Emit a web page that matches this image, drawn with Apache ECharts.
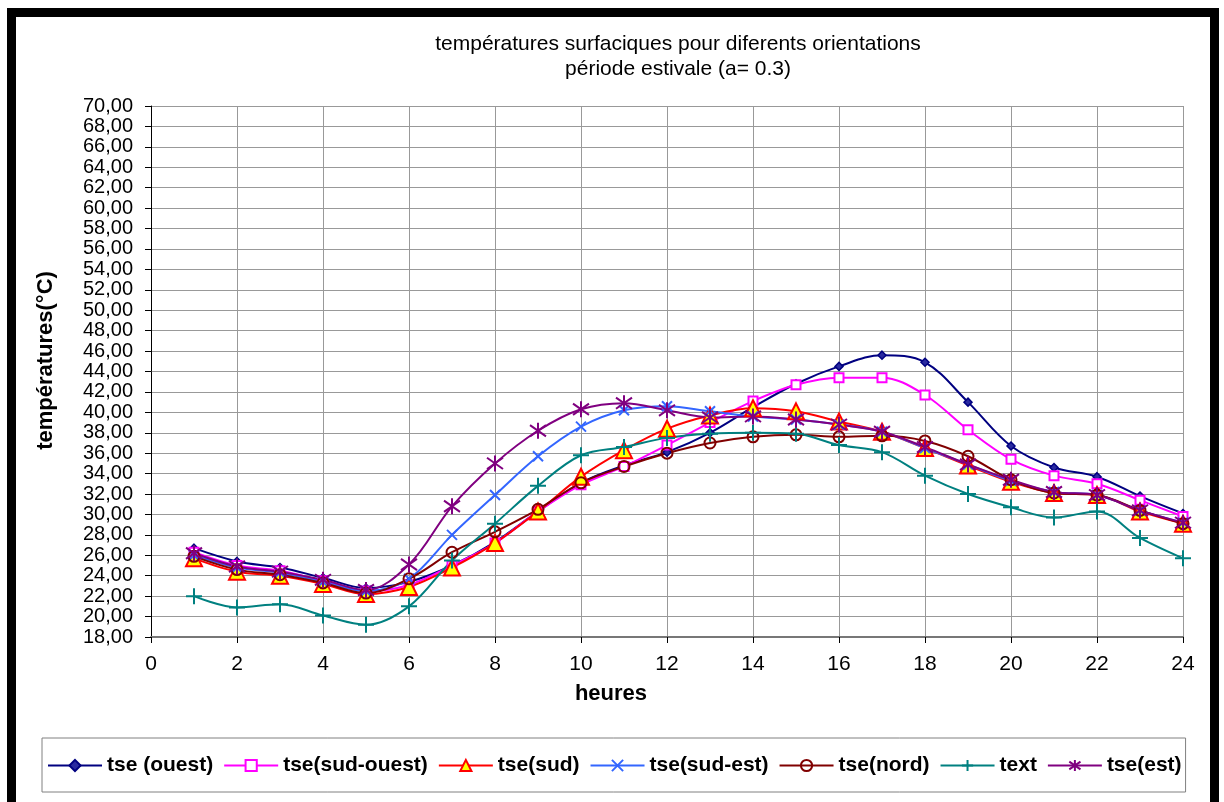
<!DOCTYPE html>
<html>
<head>
<meta charset="utf-8">
<script src="https://cdn.jsdelivr.net/npm/echarts@6/dist/echarts.min.js"></script>
<style>
html,body{margin:0;padding:0;background:#fff;}
#chart{width:1224px;height:802px;}
</style>
</head>
<body>
<div id="chart"></div>
<script>
const hours = [1,2,3,4,5,6,7,8,9,10,11,12,13,14,15,16,17,18,19,20,21,22,23,24];
const ouest    = [26.7,25.4,24.8,23.8,22.8,23.4,25.0,27.3,30.3,33.1,34.8,36.1,38.0,40.5,42.8,44.5,45.6,44.9,41.0,36.7,34.6,33.7,31.8,30.1];
const sudOuest = [26.3,25.0,24.5,23.5,22.5,23.1,25.0,27.2,30.3,32.9,34.7,36.8,39.0,41.1,42.7,43.4,43.4,41.7,38.3,35.4,33.8,33.0,31.4,29.8];
const sud      = [25.7,24.4,24.0,23.2,22.2,22.9,24.8,27.2,30.3,33.7,36.3,38.4,39.7,40.4,40.1,39.1,38.1,36.5,34.8,33.2,32.1,31.9,30.3,29.1];
const sudEst   = [26.0,24.8,24.3,23.4,22.5,23.7,28.0,31.9,35.7,38.6,40.2,40.6,40.1,39.6,39.3,38.8,38.1,36.5,34.9,33.3,32.2,31.9,30.4,29.2];
const nord     = [25.9,24.6,24.1,23.3,22.3,23.7,26.3,28.3,30.5,33.1,34.7,36.0,37.0,37.6,37.8,37.6,37.7,37.2,35.7,33.4,32.1,31.9,30.4,29.1];
const text     = [22.0,20.9,21.2,20.1,19.2,21.0,25.5,29.1,32.8,35.8,36.6,37.5,37.9,38.0,37.9,36.8,36.1,33.8,32.0,30.7,29.7,30.3,27.7,25.7];
const est      = [26.2,24.9,24.4,23.6,22.6,25.1,30.8,35.0,38.2,40.3,40.9,40.2,39.5,39.6,39.3,38.8,38.1,36.6,34.9,33.4,32.2,31.9,30.4,29.2];
const seriesNames = ['tse (ouest)','tse(sud-ouest)','tse(sud)','tse(sud-est)','tse(nord)','text','tse(est)'];
const titleLines = ['températures surfaciques pour diferents orientations','période estivale (a= 0.3)'];
const xName = 'heures';
const yName = 'températures(°C)';

const FONT = '"Liberation Sans", Arial, sans-serif';
function pairs(arr){ return hours.map((h,i)=>[h,arr[i]]); }
function mk(name, arr, color, symbol, size, fill, bw){
  return {
    name: name, type: 'line', data: pairs(arr), smooth: 0.35,
    color: color,
    symbol: symbol, symbolSize: size, showSymbol: true,
    lineStyle: {color: color, width: 2},
    itemStyle: {color: fill, borderColor: color, borderWidth: bw},
    emphasis: {disabled: true},
    animation: false
  };
}
const X_PATH = 'path://M0,0L10,10M10,0L0,10';
const PLUS_PATH = 'path://M5,0L5,10M0,5L10,5';
const STAR_PATH = 'path://M5,0L5,10M0,1.5L10,8.5M10,1.5L0,8.5';

const chart = echarts.init(document.getElementById('chart'), null, {renderer:'canvas'});
chart.setOption({
  animation: false,
  backgroundColor: '#fff',
  title: {
    text: titleLines.join('\n'),
    left: 673, top: 27, textAlign: 'center',
    textStyle: {fontFamily: FONT, fontSize: 21, fontWeight: 'normal', color: '#000', lineHeight: 25}
  },
  graphic: [{
    type: 'rect', silent: true,
    shape: {x: 11.5, y: 12.5, width: 1203, height: 900},
    style: {fill: 'none', stroke: '#000', lineWidth: 9}
  }],
  grid: {left: 151, right: 41, top: 106, bottom: 165, containLabel: false},
  xAxis: {
    type: 'value', min: 0, max: 24, interval: 2,
    name: xName, nameLocation: 'middle', nameGap: 46,
    nameTextStyle: {fontFamily: FONT, fontSize: 22, fontWeight: 'bold', color: '#000', padding: [0,112,0,0], verticalAlign: 'top'},
    axisLine: {show: true, onZero: false, lineStyle: {color: '#777', width: 2}},
    axisTick: {show: true, length: 6, lineStyle: {color: '#000'}},
    axisLabel: {fontFamily: FONT, fontSize: 21, color: '#000', margin: 17, showMinLabel: true, showMaxLabel: true, hideOverlap: false},
    splitLine: {show: true, lineStyle: {color: '#999', width: 1}}
  },
  yAxis: {
    type: 'value', min: 18, max: 70, interval: 2,
    name: yName, nameLocation: 'middle', nameGap: 94,
    nameTextStyle: {fontFamily: FONT, fontSize: 22, fontWeight: 'bold', color: '#000', padding: [0,0,0,22]},
    axisLine: {show: true, lineStyle: {color: '#000', width: 1}},
    axisTick: {show: true, length: 6, lineStyle: {color: '#000'}},
    axisLabel: {fontFamily: FONT, fontSize: 20, color: '#000', margin: 18,
      showMinLabel: true, showMaxLabel: true, hideOverlap: false,
      formatter: v => v.toFixed(2).replace('.', ',')},
    splitLine: {show: true, lineStyle: {color: '#999', width: 1}}
  },
  legend: {
    data: seriesNames,
    left: 42, top: 738,
    orient: 'horizontal',
    itemWidth: 54, itemHeight: 14, itemGap: 10,
    padding: [17, 4, 16, 5],
    borderColor: '#808080', borderWidth: 1,
    textStyle: {fontFamily: FONT, fontSize: 21, fontWeight: 'bold', color: '#000'},
    selectedMode: false
  },
  series: [
    mk(seriesNames[0], ouest, '#000080', 'diamond', 8, '#2a2aa0', 1.5),
    mk(seriesNames[1], sudOuest, '#FF00FF', 'rect', 9, '#ffffff', 2),
    mk(seriesNames[2], sud, '#FF0000', 'triangle', 16, '#FFFF00', 2),
    mk(seriesNames[3], sudEst, '#3366FF', X_PATH, 10, '#3366FF', 2),
    mk(seriesNames[4], nord, '#800000', 'circle', 11, 'rgba(255,255,255,0)', 2),
    mk(seriesNames[5], text, '#008080', PLUS_PATH, 16, '#008080', 2),
    mk(seriesNames[6], est, '#800080', STAR_PATH, 16, '#800080', 2)
  ]
});
</script>
</body>
</html>
